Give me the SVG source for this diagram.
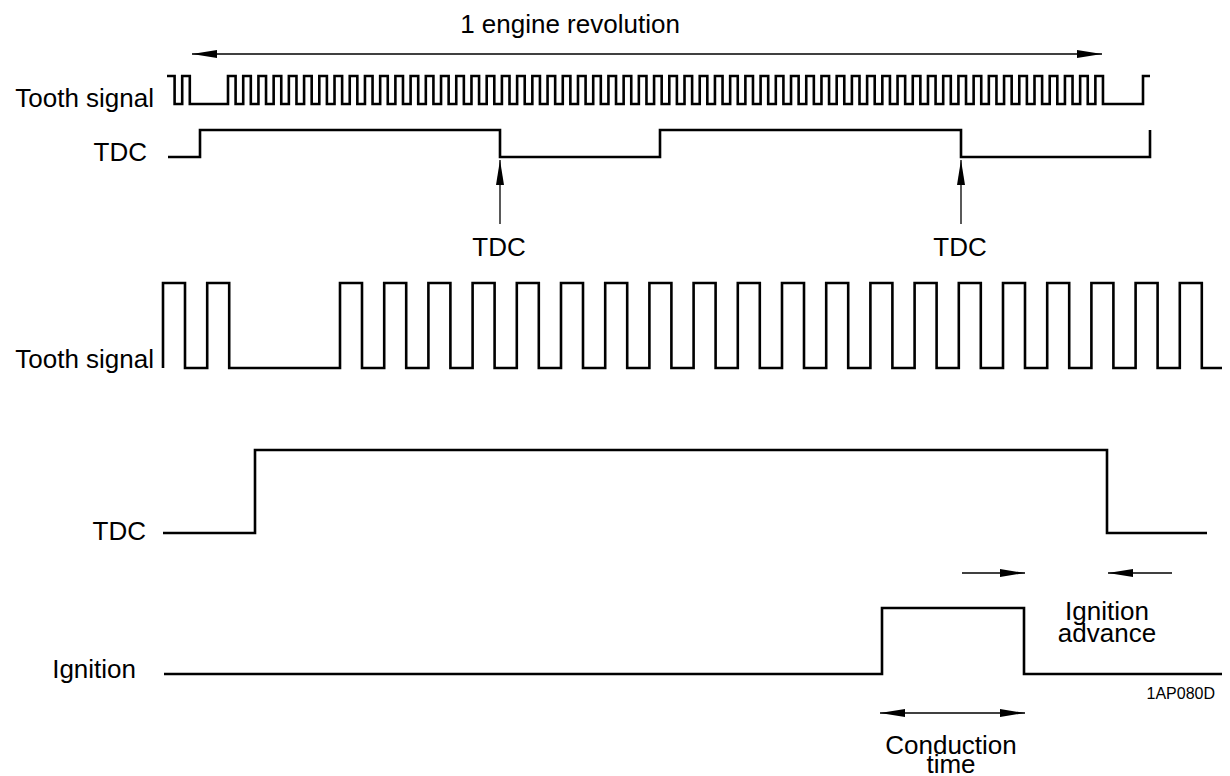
<svg xmlns="http://www.w3.org/2000/svg" width="1230" height="776" viewBox="0 0 1230 776">
<style>
text{font-family:"Liberation Sans",Arial,Helvetica,sans-serif;font-size:26px;fill:#000}
.sig{fill:none;stroke:#000;stroke-width:2.6;stroke-linejoin:miter}
.arr{fill:none;stroke:#000;stroke-width:1.3}
</style>
<defs>
<marker id="ah" markerUnits="userSpaceOnUse" markerWidth="25" markerHeight="8" refX="25" refY="4" orient="auto-start-reverse" viewBox="0 0 25 8">
<path d="M0,0 L25,4 L0,8 z" fill="#000"/>
</marker>
</defs>
<rect width="1230" height="776" fill="#fff"/>

<g id="title"><text x="570" y="33" text-anchor="middle">1 engine revolution</text></g>

<g id="tooth-top">
<text x="154" y="107" text-anchor="end">Tooth signal</text>
<path class="sig" d="M167,76 h7.6 V104 h7.6 V76 h7.6 V104 H228 V76 h7.6 V104
h7.617V76h7.6V104 h7.617V76h7.6V104 h7.617V76h7.6V104 h7.617V76h7.6V104 h7.617V76h7.6V104 h7.617V76h7.6V104 h7.617V76h7.6V104 h7.617V76h7.6V104 h7.617V76h7.6V104 h7.617V76h7.6V104
h7.617V76h7.6V104 h7.617V76h7.6V104 h7.617V76h7.6V104 h7.617V76h7.6V104 h7.617V76h7.6V104 h7.617V76h7.6V104 h7.617V76h7.6V104 h7.617V76h7.6V104 h7.617V76h7.6V104 h7.617V76h7.6V104
h7.617V76h7.6V104 h7.617V76h7.6V104 h7.617V76h7.6V104 h7.617V76h7.6V104 h7.617V76h7.6V104 h7.617V76h7.6V104 h7.617V76h7.6V104 h7.617V76h7.6V104 h7.617V76h7.6V104 h7.617V76h7.6V104
h7.617V76h7.6V104 h7.617V76h7.6V104 h7.617V76h7.6V104 h7.617V76h7.6V104 h7.617V76h7.6V104 h7.617V76h7.6V104 h7.617V76h7.6V104 h7.617V76h7.6V104 h7.617V76h7.6V104 h7.617V76h7.6V104
h7.617V76h7.6V104 h7.617V76h7.6V104 h7.617V76h7.6V104 h7.617V76h7.6V104 h7.617V76h7.6V104 h7.617V76h7.6V104 h7.617V76h7.6V104 h7.617V76h7.6V104 h7.617V76h7.6V104 h7.617V76h7.6V104
h7.617V76h7.6V104 h7.617V76h7.6V104 h7.617V76h7.6V104 h7.617V76h7.6V104 h7.617V76h7.6V104 h7.617V76h7.6V104 h7.617V76h7.6V104
H1143 V76 H1150"/>
</g>

<g id="tdc-top">
<text x="147" y="161" text-anchor="end">TDC</text>
<path class="sig" d="M168,157 H200 V130 H500 V157 H660 V130 H961 V157 H1150 V130"/>
</g>

<g id="tdc-mark-1"><text x="499" y="256" text-anchor="middle">TDC</text></g>
<g id="tdc-mark-2"><text x="960" y="256" text-anchor="middle">TDC</text></g>

<g id="tooth-mid">
<text x="154" y="368" text-anchor="end">Tooth signal</text>
<path class="sig" d="M163,368 V283 h22 V368 h22.2 V283 h22 V368 H340 V283 h22 V368h22.2V283h22V368h22.2V283h22V368h22.2V283h22V368h22.2V283h22V368h22.2V283h22V368h22.2V283h22V368h22.2V283h22V368h22.2V283h22V368h22.2V283h22V368h22.2V283h22V368h22.2V283h22V368h22.2V283h22V368h22.2V283h22V368h22.2V283h22V368h22.2V283h22V368h22.2V283h22V368h22.2V283h22V368h22.2V283h22V368h22.2V283h22V368 H1222"/>
</g>

<g id="tdc-bottom">
<text x="146" y="540" text-anchor="end">TDC</text>
<path class="sig" d="M163,533 H255 V450 H1107 V533 H1207"/>
</g>

<g id="ignition">
<text x="136" y="678" text-anchor="end">Ignition</text>
<path class="sig" d="M164,674 H882 V608 H1024 V674 H1222"/>
</g>

<g id="label-advance">
<text x="1107" y="620" text-anchor="middle">Ignition</text>
<text x="1107" y="642" text-anchor="middle">advance</text>
</g>
<g id="label-conduction">
<text x="951" y="754" text-anchor="middle">Conduction</text>
<text x="951" y="773" text-anchor="middle">time</text>
</g>
<g id="code"><text x="1215" y="699" text-anchor="end" style="font-size:16px">1AP080D</text></g>

<g id="connectors">
<line class="arr" x1="192" y1="54" x2="1102" y2="54" marker-start="url(#ah)" marker-end="url(#ah)"/>
<line class="arr" x1="500" y1="224" x2="500" y2="160" marker-end="url(#ah)"/>
<line class="arr" x1="961" y1="224" x2="961" y2="160" marker-end="url(#ah)"/>
<line class="arr" x1="962" y1="573" x2="1025" y2="573" marker-end="url(#ah)"/>
<line class="arr" x1="1172" y1="573" x2="1108" y2="573" marker-end="url(#ah)"/>
<line class="arr" x1="880" y1="713" x2="1025" y2="713" marker-start="url(#ah)" marker-end="url(#ah)"/>
</g>
</svg>
